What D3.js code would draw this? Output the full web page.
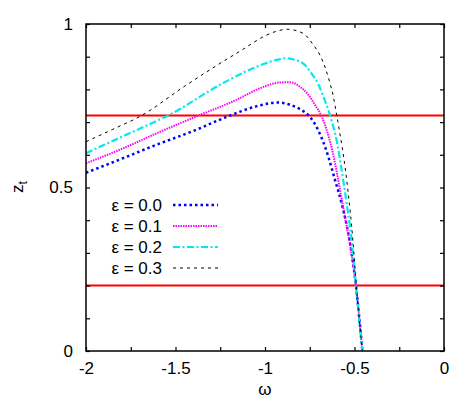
<!DOCTYPE html>
<html>
<head>
<meta charset="utf-8">
<script src="https://cdn.jsdelivr.net/npm/d3@7"></script>
<style>
  html, body { margin: 0; padding: 0; background: #fff; }
  svg text { font-family: "Liberation Sans", Arial, sans-serif; }
</style>
</head>
<body>
<svg id="chart" width="471" height="415"></svg>
<script>
// ---- data ----
const epsLabels = ["ε = 0.0", "ε = 0.1", "ε = 0.2", "ε = 0.3"];
const omega00 = [-2.0,-1.8,-1.6,-1.4,-1.2,-1.05,-0.93,-0.86,-0.80,-0.75,-0.71,-0.675,-0.645,-0.61,-0.572,-0.544,-0.525,-0.492,-0.456];
const zt00    = [0.545,0.588,0.632,0.673,0.719,0.748,0.760,0.753,0.738,0.717,0.683,0.640,0.592,0.525,0.452,0.385,0.330,0.2,0.0];
const omega01 = [-2.0,-1.8,-1.6,-1.385,-1.16,-1.03,-0.92,-0.86,-0.80,-0.76,-0.72,-0.683,-0.655,-0.625,-0.60,-0.58,-0.55,-0.52,-0.492,-0.456];
const zt01    = [0.574,0.618,0.667,0.717,0.768,0.803,0.821,0.822,0.806,0.785,0.752,0.717,0.675,0.615,0.55,0.49,0.40,0.31,0.2,0.0];
const omega02 = [-2.0,-1.8,-1.6,-1.535,-1.255,-1.07,-0.92,-0.888,-0.795,-0.74,-0.70,-0.674,-0.646,-0.628,-0.609,-0.6,-0.572,-0.544,-0.516,-0.492,-0.456];
const zt02    = [0.605,0.655,0.705,0.722,0.813,0.864,0.892,0.895,0.882,0.849,0.813,0.778,0.737,0.705,0.666,0.645,0.554,0.452,0.339,0.2,0.0];
const omega03 = [-2.0,-1.85,-1.7,-1.44,-1.16,-0.94,-0.877,-0.786,-0.73,-0.693,-0.659,-0.637,-0.618,-0.603,-0.585,-0.553,-0.535,-0.51,-0.49,-0.456];
const zt03    = [0.64,0.678,0.717,0.813,0.91,0.977,0.984,0.971,0.936,0.905,0.859,0.819,0.778,0.732,0.676,0.564,0.482,0.345,0.2,0.0];
const hLines = [0.72, 0.2];
const xTickValues = [-2,-1.75,-1.5,-1.25,-1,-0.75,-0.5,-0.25,0];
const xTickLabels = ["-2","-1.5","-1","-0.5","0"];
const yTickValues = [0,0.1,0.2,0.3,0.4,0.5,0.6,0.7,0.8,0.9,1];
const yTickLabels = ["0","0.5","1"];

const seriesOmega = [omega00, omega01, omega02, omega03];
const seriesZt = [zt00, zt01, zt02, zt03];
const styles = [
  {color:"#0000ff", width:2.5, dash:"2.5,3"},
  {color:"#ff00ff", width:2,   dash:"1.5,1"},
  {color:"#00e8f0", width:2.2, dash:"7,2.5,2,2.5"},
  {color:"#000000", width:1,   dash:"3,4"}
];

// ---- layout ----
const svg = d3.select("#chart");
const L = 86, R = 444, T = 24, B = 351;
const x = d3.scaleLinear().domain([-2, 0]).range([L, R]);
const y = d3.scaleLinear().domain([0, 1]).range([B, T]);

svg.append("defs").append("clipPath").attr("id","clip")
  .append("rect").attr("x",L).attr("y",T).attr("width",R-L).attr("height",B-T);

// red horizontal lines
svg.append("g").selectAll("line").data(hLines).join("line")
  .attr("x1", x(-2)).attr("x2", x(0))
  .attr("y1", d => y(d)).attr("y2", d => y(d))
  .attr("stroke", "#ff0000").attr("stroke-width", 2);

// curves
const line = d3.line().x(d => x(d[0])).y(d => y(d[1])).curve(d3.curveMonotoneX);
const gc = svg.append("g").attr("clip-path","url(#clip)");
seriesOmega.forEach((om, i) => {
  const pts = om.map((w, j) => [w, seriesZt[i][j]]);
  gc.append("path").datum(pts)
    .attr("d", line)
    .attr("fill", "none")
    .attr("stroke", styles[i].color)
    .attr("stroke-width", styles[i].width)
    .attr("stroke-dasharray", styles[i].dash);
});

// axes with inward ticks
const tickLen = 4;
const fmtX = d => xTickLabels.includes(String(d)) ? String(d) : "";
const fmtY = d => yTickLabels.includes(String(d)) ? String(d) : "";

const axB = svg.append("g").attr("transform", `translate(0,${B})`)
  .call(d3.axisBottom(x).tickValues(xTickValues).tickSizeInner(-tickLen).tickSizeOuter(0).tickPadding(11).tickFormat(fmtX));
const axT = svg.append("g").attr("transform", `translate(0,${T})`)
  .call(d3.axisTop(x).tickValues(xTickValues).tickSizeInner(-tickLen).tickSizeOuter(0).tickFormat(""));
const axL = svg.append("g").attr("transform", `translate(${L},0)`)
  .call(d3.axisLeft(y).tickValues(yTickValues).tickSizeInner(-tickLen).tickSizeOuter(0).tickPadding(13).tickFormat(fmtY));
const axR = svg.append("g").attr("transform", `translate(${R},0)`)
  .call(d3.axisRight(y).tickValues(yTickValues).tickSizeInner(-tickLen).tickSizeOuter(0).tickFormat(""));

[axB, axT, axL, axR].forEach(a => {
  a.select(".domain").remove();
  a.selectAll("line").attr("stroke", "#000").attr("stroke-width", 1.2);
  a.selectAll("text").attr("font-size", 17).attr("fill", "#000")
    .attr("font-family", "Liberation Sans, Arial, sans-serif");
});

// frame
svg.append("rect").attr("x", L).attr("y", T).attr("width", R-L).attr("height", B-T)
  .attr("fill", "none").attr("stroke", "#000").attr("stroke-width", 1.5);

// axis titles
svg.append("text").attr("x", x(-1)).attr("y", 395).attr("text-anchor","middle")
  .attr("font-size", 17).text("ω");
const yl = svg.append("text").attr("transform", "translate(23,187) rotate(-90)")
  .attr("text-anchor","middle").attr("font-size", 17);
yl.append("tspan").text("z");
yl.append("tspan").attr("font-size", 12).attr("dy", 4).text("t");

// legend
const legY = [205, 226, 247, 268];
const leg = svg.append("g");
epsLabels.forEach((lab, i) => {
  leg.append("text").attr("x", 162).attr("y", legY[i] + 6).attr("text-anchor","end")
    .attr("font-size", 17).text(lab);
  leg.append("line").attr("x1", 173).attr("x2", 218).attr("y1", legY[i]).attr("y2", legY[i])
    .attr("stroke", styles[i].color).attr("stroke-width", styles[i].width)
    .attr("stroke-dasharray", styles[i].dash);
});
</script>
</body>
</html>
